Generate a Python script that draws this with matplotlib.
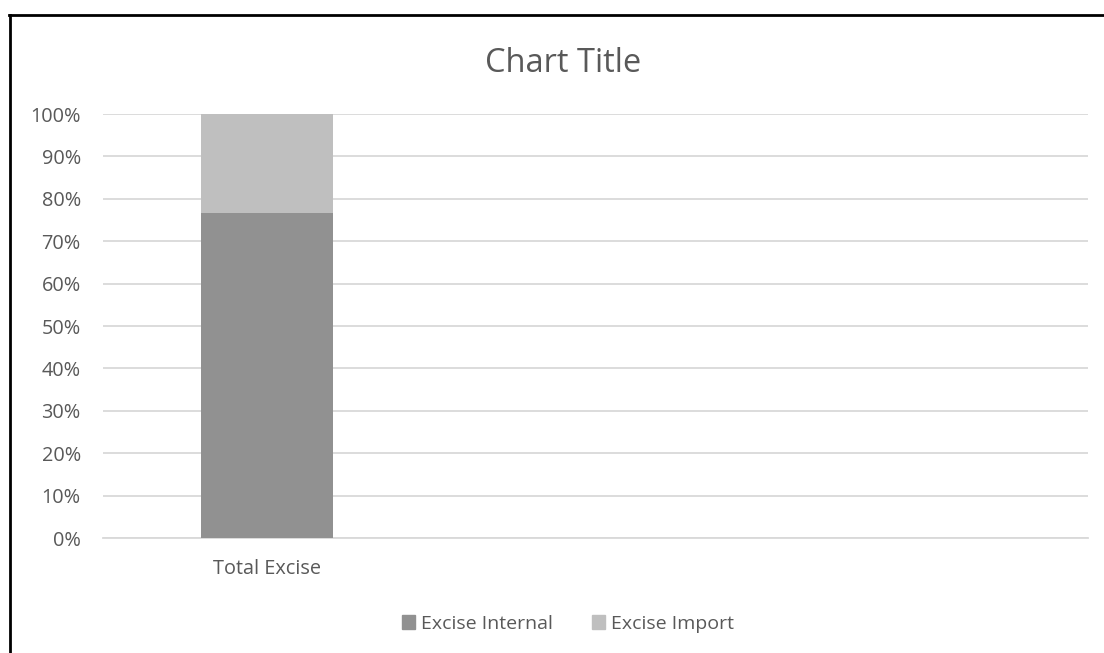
import matplotlib.pyplot as plt
from matplotlib.lines import Line2D
from matplotlib.patches import Patch
import numpy as np

categories = ["Total Excise", "", ""]
excise_internal = [76.7]
excise_import = [23.3]
series_names = ["Excise Internal", "Excise Import"]
yticks = [0, 10, 20, 30, 40, 50, 60, 70, 80, 90, 100]

c_internal = "#919191"
c_import = "#bfbfbf"
txt = "#595959"
grid = "#d9d9d9"

plt.rcParams['font.family'] = ['Open Sans', 'DejaVu Sans']

fig = plt.figure(figsize=(11.04, 6.53), dpi=100)
ax = fig.add_axes([103 / 1104, 1 - 538 / 653, 985 / 1104, 424 / 653])

x = np.arange(len(excise_internal))
total = np.array(excise_internal) + np.array(excise_import)
p_int = np.array(excise_internal) / total * 100
p_imp = np.array(excise_import) / total * 100
ax.bar(x, p_int, width=0.402, color=c_internal, zorder=3)
ax.bar(x, p_imp, bottom=p_int, width=0.402, color=c_import, zorder=3)

ax.set_xlim(-0.5, len(categories) - 0.5)
ax.set_ylim(0, 100)
ax.set_yticks(yticks)
ax.set_yticklabels([f"{t}%" for t in yticks], color=txt, fontsize=14.3)
ax.set_xticks(range(len(categories)))
ax.set_xticklabels(categories, color=txt, fontsize=14.3)
ax.tick_params(axis='y', length=0, pad=16)
ax.tick_params(axis='x', length=0, pad=15)
ax.grid(axis='y', color=grid, linewidth=1.3, zorder=0)
for s in ['top', 'right', 'left']:
    ax.spines[s].set_visible(False)
ax.spines['bottom'].set_color(grid)
ax.spines['bottom'].set_linewidth(1.3)

fig.text(563 / 1104, 1 - 63 / 653, "Chart Title", ha='center', va='center',
         fontsize=23.5, color=txt)

handles = [Patch(color=c_internal), Patch(color=c_import)]
fig.legend(handles, series_names, loc='center', bbox_to_anchor=(568 / 1104, 1 - 624 / 653),
           ncol=2, frameon=False, fontsize=14, labelcolor=txt,
           handlelength=0.7, handleheight=0.7, handletextpad=0.3, columnspacing=2.0)

# chart border (only left and top visible in the crop)
fig.add_artist(Line2D([10 / 1104, 10 / 1104], [0, 1 - 15 / 653], color='black', lw=2,
                      transform=fig.transFigure))
fig.add_artist(Line2D([9 / 1104, 1], [1 - 15 / 653, 1 - 15 / 653], color='black', lw=2,
                      transform=fig.transFigure))

fig.savefig("out.png", dpi=100, facecolor='white')
